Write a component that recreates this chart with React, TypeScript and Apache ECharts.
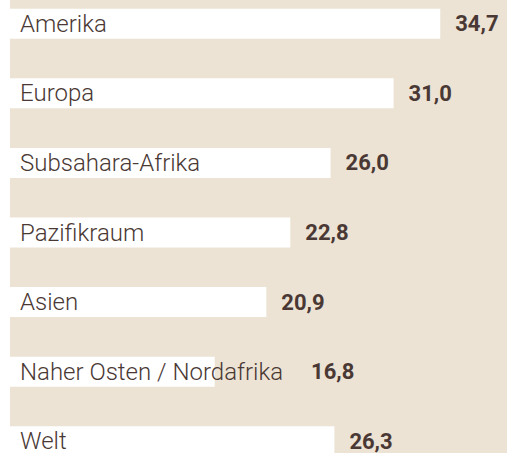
import React, { useEffect, useRef } from "react";
import * as echarts from "echarts";

const categories = [
  "Amerika",
  "Europa",
  "Subsahara-Afrika",
  "Pazifikraum",
  "Asien",
  "Naher Osten / Nordafrika",
  "Welt",
];
const values = [34.7, 31.0, 26.0, 22.8, 20.9, 16.8, 26.3];

const TEXT = "#4a3834";
const BEIGE = "#ece3d5";
const X_MAX = 40;
const GRID_LEFT = 3;
const CHART_W = 507;
const LABEL_FONT = "300 24px Roboto";
const LABEL_DIST = 17;

function measure(text: string, font: string): number {
  const c = document.createElement("canvas").getContext("2d");
  if (!c) return text.length * 11;
  c.font = font;
  return c.measureText(text).width;
}

export default function App() {
  const ref = useRef<HTMLDivElement>(null);
  useEffect(() => {
    if (!ref.current) return;
    const chart = echarts.init(ref.current, undefined, { renderer: "svg" });
    const pxPerUnit = (CHART_W - GRID_LEFT) / X_MAX;
    const valueData = values.map((v, i) => {
      const barEnd = GRID_LEFT + v * pxPerUnit;
      const labelEnd = GRID_LEFT + LABEL_DIST + measure(categories[i], LABEL_FONT);
      const extra = Math.max(0, labelEnd + 13 - barEnd);
      return {
        value: v,
        label: { offset: [extra, 0] },
      };
    });
    chart.setOption({
      animation: false,
      backgroundColor: "transparent",
      grid: { left: GRID_LEFT, right: 0, top: 0, bottom: 0, containLabel: false },
      xAxis: { type: "value", min: 0, max: X_MAX, show: false },
      yAxis: {
        type: "category",
        data: categories,
        inverse: true,
        show: false,
      },
      series: [
        {
          type: "bar",
          data: values,
          barWidth: 30,
          itemStyle: { color: "#ffffff" },
          label: {
            show: true,
            position: "insideLeft",
            distance: LABEL_DIST,
            formatter: (p: any) => categories[p.dataIndex],
            color: TEXT,
            fontFamily: "Roboto",
            fontWeight: 300,
            fontSize: 24,
          },
          z: 2,
        },
        {
          type: "bar",
          data: valueData,
          barWidth: 30,
          barGap: "-100%",
          itemStyle: { color: "rgba(0,0,0,0)" },
          label: {
            show: true,
            position: "right",
            distance: 15,
            formatter: (p: any) => p.value.toFixed(1).replace(".", ","),
            color: TEXT,
            fontFamily: "Roboto",
            fontWeight: "bold",
            fontSize: 22,
          },
          z: 3,
        },
      ],
    });
    return () => chart.dispose();
  }, []);
  return (
    <div
      style={{
        position: "fixed",
        left: 0,
        top: 0,
        width: 507,
        height: 453,
        overflow: "hidden",
        background: "#ffffff",
      }}
    >
      <div
        style={{
          position: "absolute",
          left: 10,
          top: 0,
          width: 497,
          height: 453,
          background: BEIGE,
        }}
      />
      <div
        ref={ref}
        style={{ position: "absolute", left: 0, top: -11, width: 507, height: 487 }}
      />
    </div>
  );
}
